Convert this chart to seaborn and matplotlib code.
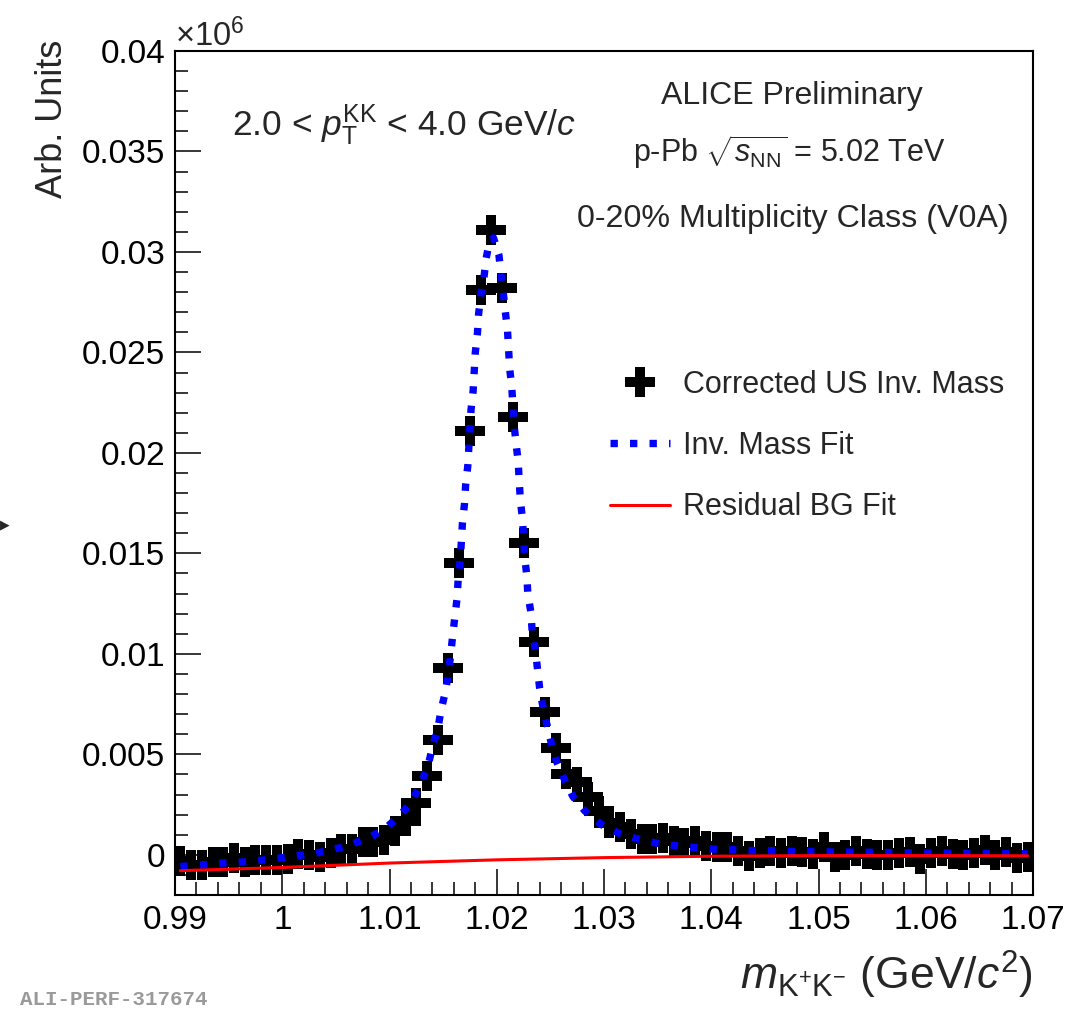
import numpy as np
import pandas as pd
import matplotlib
matplotlib.use("Agg")
import matplotlib.pyplot as plt
import seaborn as sns
from matplotlib.lines import Line2D
from matplotlib.ticker import MultipleLocator, FuncFormatter

# ---------------- data (values in units of 10^6) ----------------
mass_bins = [0.9905, 0.9915, 0.9925, 0.9935, 0.9945, 0.9955, 0.9965, 0.9975, 0.9985, 0.9995,
             1.0005, 1.0015, 1.0025, 1.0035, 1.0045, 1.0055, 1.0065, 1.0075, 1.0085, 1.0095,
             1.0105, 1.0115, 1.0125, 1.0135, 1.0145, 1.0155, 1.0165, 1.0175, 1.0185, 1.0195,
             1.0205, 1.0215, 1.0225, 1.0235, 1.0245, 1.0255, 1.0265, 1.0275, 1.0285, 1.0295,
             1.0305, 1.0315, 1.0325, 1.0335, 1.0345, 1.0355, 1.0365, 1.0375, 1.0385, 1.0395,
             1.0405, 1.0415, 1.0425, 1.0435, 1.0445, 1.0455, 1.0465, 1.0475, 1.0485, 1.0495,
             1.0505, 1.0515, 1.0525, 1.0535, 1.0545, 1.0555, 1.0565, 1.0575, 1.0585, 1.0595,
             1.0605, 1.0615, 1.0625, 1.0635, 1.0645, 1.0655, 1.0665, 1.0675, 1.0685, 1.0695]
corrected_us = [-0.00033, -0.00053, -0.00053, -0.00037, -0.00037, -0.00015, -0.00037, -0.00028, -0.00028, -0.00028,
                -0.00020, 0.00003, -0.00002, -0.00010, 0.00008, 0.00028, 0.00028, 0.00062, 0.00063, 0.00075,
                0.00120, 0.00170, 0.00260, 0.00390, 0.00570, 0.00930, 0.01450, 0.02110, 0.02810, 0.03110,
                0.02820, 0.02180, 0.01550, 0.01060, 0.00710, 0.00530, 0.00400, 0.00360, 0.00290, 0.00220,
                0.00160, 0.00140, 0.00105, 0.00080, 0.00079, 0.00083, 0.00070, 0.00058, 0.00070, 0.00046,
                0.00041, 0.00040, 0.00021, -0.00005, 0.00010, 0.00017, 0.00010, 0.00017, 0.00013, 0.00003,
                0.00038, -0.00012, -0.00003, 0.00021, 0.00006, -0.00002, -0.00003, 0.00008, 0.00013, -0.00020,
                0.00010, 0.00017, 0.00006, 0.00000, 0.00008, 0.00025, -0.00003, 0.00013, -0.00017, -0.00010]

fit_mass = [0.9905, 0.9926, 0.9944, 0.9962, 0.9979, 0.9996, 1.0013, 1.0031, 1.0049, 1.0066,
            1.0083, 1.0097, 1.0110, 1.0121, 1.0129, 1.0136, 1.0140, 1.0145, 1.0148, 1.0152,
            1.0155, 1.0157, 1.0159, 1.0161, 1.0163, 1.0164, 1.0166, 1.0168, 1.0170, 1.0171,
            1.0173, 1.0174, 1.0176, 1.0178, 1.0179, 1.0180, 1.0182, 1.0183, 1.0185, 1.0188,
            1.0190, 1.0193, 1.0197, 1.0202, 1.0204, 1.0206, 1.0208, 1.0210, 1.0211, 1.0212,
            1.0214, 1.0216, 1.0218, 1.0220, 1.0221, 1.0222, 1.0224, 1.0226, 1.0228, 1.0229,
            1.0232, 1.0233, 1.0236, 1.0238, 1.0240, 1.0243, 1.0247, 1.0251, 1.0256, 1.0263,
            1.0271, 1.0282, 1.0298, 1.0315, 1.0332, 1.0349, 1.0368, 1.0385, 1.0402, 1.0421,
            1.0438, 1.0455, 1.0473, 1.0500, 1.0600, 1.0695]
fit_value = [-0.00058, -0.00050, -0.00041, -0.00036, -0.00028, -0.00017, -0.00005, 0.00008, 0.00028, 0.00055,
             0.00091, 0.00135, 0.00199, 0.00265, 0.00353, 0.00443, 0.00536, 0.00625, 0.00718, 0.00809,
             0.00904, 0.00995, 0.01095, 0.01186, 0.01277, 0.01368, 0.01468, 0.01650, 0.01750, 0.01841,
             0.01935, 0.02031, 0.02214, 0.02310, 0.02405, 0.02499, 0.02595, 0.02687, 0.02781, 0.02869,
             0.02964, 0.03048, 0.03070, 0.02985, 0.02890, 0.02803, 0.02703, 0.02612, 0.02521, 0.02421,
             0.02330, 0.02148, 0.02048, 0.01954, 0.01857, 0.01766, 0.01670, 0.01484, 0.01390, 0.01297,
             0.01202, 0.01111, 0.01020, 0.00924, 0.00829, 0.00738, 0.00643, 0.00552, 0.00461, 0.00376,
             0.00290, 0.00219, 0.00149, 0.00104, 0.00078, 0.00058, 0.00045, 0.00036, 0.00028, 0.00025,
             0.00021, 0.00021, 0.00017, 0.00015, 0.00009, 0.00005]

bg_mass = [0.9905, 1.0000, 1.0100, 1.0200, 1.0300, 1.0400, 1.0500, 1.0600, 1.0695]
bg_value = [-0.00079, -0.00063, -0.00041, -0.00025, -0.00014, -0.00007, -0.00004, -0.00004, -0.00005]

legend_labels = ["Corrected US Inv. Mass", "Inv. Mass Fit", "Residual BG Fit"]

data_df = pd.DataFrame({"mass": mass_bins, "value": corrected_us})
fit_df = pd.DataFrame({"mass": fit_mass, "value": fit_value})
bg_df = pd.DataFrame({"mass": bg_mass, "value": bg_value})

# ---------------- style ----------------
sns.set_theme(style="ticks")
plt.rcParams["font.family"] = ["Liberation Sans", "DejaVu Sans"]
plt.rcParams["mathtext.fontset"] = "custom"
plt.rcParams["mathtext.rm"] = "Liberation Sans"
plt.rcParams["mathtext.it"] = "Liberation Sans:italic"
plt.rcParams["mathtext.bf"] = "Liberation Sans:bold"
plt.rcParams["mathtext.sf"] = "Liberation Sans"

W, H = 1086, 1009
fig = plt.figure(figsize=(W / 100, H / 100), dpi=100)
ax = fig.add_axes([175 / W, 1 - 895 / H, (1033 - 175) / W, (895 - 51) / H])

MS = 22
FIT_LW = 5.3
sns.scatterplot(data=data_df, x="mass", y="value", marker="P", s=MS ** 2, color="black",
                linewidth=0, ax=ax, zorder=3, legend=False)
sns.lineplot(data=fit_df, x="mass", y="value", sort=False, estimator=None, color="#0000ff",
             linewidth=FIT_LW, ax=ax, zorder=4)
fit_line = ax.lines[-1]
DASH = (0, (1.0, 1.65))
fit_line.set_linestyle(DASH)
fit_line.set_dash_capstyle("butt")
sns.lineplot(data=bg_df, x="mass", y="value", sort=False, estimator=None, color="#ff0000",
             linewidth=2.2, ax=ax, zorder=5)

ax.set_xlim(0.99, 1.07)
ax.set_ylim(-0.002, 0.04)
ax.set_xlabel("")
ax.set_ylabel("")

fmt = FuncFormatter(lambda v, p: f"{round(v, 6) + 0.0:g}")
ax.xaxis.set_major_locator(MultipleLocator(0.01))
ax.xaxis.set_minor_locator(MultipleLocator(0.002))
ax.yaxis.set_major_locator(MultipleLocator(0.005))
ax.yaxis.set_minor_locator(MultipleLocator(0.001))
ax.xaxis.set_major_formatter(fmt)
ax.yaxis.set_major_formatter(fmt)
ax.tick_params(which="both", direction="in", top=False, right=False, width=1.1, color="black",
               labelsize=24, labelcolor="black")
ax.tick_params(which="major", length=19, pad=7)
ax.tick_params(which="minor", length=9.5)
for s in ax.spines.values():
    s.set_linewidth(1.5)
    s.set_color("black")
    s.set_visible(True)

# ---------------- legend ----------------
handles = [
    Line2D([], [], marker="P", ms=MS, color="black", mew=0, ls="none"),
    Line2D([], [], color="#0000ff", lw=FIT_LW, ls=DASH, dash_capstyle="butt"),
    Line2D([], [], color="#ff0000", lw=2.2),
]
fs_leg = 22
leg = ax.legend(handles, legend_labels, loc="upper left",
                bbox_to_anchor=(610 / W, 1 - 370 / H), bbox_transform=fig.transFigure,
                frameon=False, fontsize=fs_leg, handlelength=1.96, handletextpad=0.42,
                labelspacing=1.02, borderpad=0, borderaxespad=0)

# ---------------- texts ----------------
fig.text(175 / W, 1 - 46 / H, r"$\times$10$^{6}$", fontsize=23.5, ha="left", va="baseline")
fig.text(52 / W, 1 - 40 / H, "Arb. Units", fontsize=26, rotation=90, ha="center", va="top")
fig.text(232 / W, 1 - 135 / H, r"2.0 < $p_{\mathrm{T}}^{\mathrm{KK}}$ < 4.0 GeV/$c$",
         fontsize=25.5, ha="left", va="baseline")
fig.text(792 / W, 1 - 104 / H, "ALICE Preliminary", fontsize=23, ha="center", va="baseline")
fig.text(789 / W, 1 - 162 / H, r"p-Pb $\sqrt{s_{\mathrm{NN}}}$ = 5.02 TeV", fontsize=22,
         ha="center", va="baseline")
fig.text(793 / W, 1 - 227 / H, "0-20% Multiplicity Class (V0A)", fontsize=23.2,
         ha="center", va="baseline")
fig.text(1033 / W, 1 - 990 / H, r"$m_{\mathrm{K^{+}K^{-}}}$ (GeV/$c^{2}$)", fontsize=32,
         ha="right", va="baseline")
fig.text(0 / W, 1 - 525 / H, "\u25B6", fontsize=9, ha="left", va="center",
         family=["DejaVu Sans"])
fig.text(20 / W, 1 - 990 / H, "ALI-PERF-317674", fontsize=15, ha="left", va="top",
         family=["Liberation Mono", "DejaVu Sans Mono"], weight="bold", color="#9a9a9a")

fig.savefig("out.png", dpi=100)
